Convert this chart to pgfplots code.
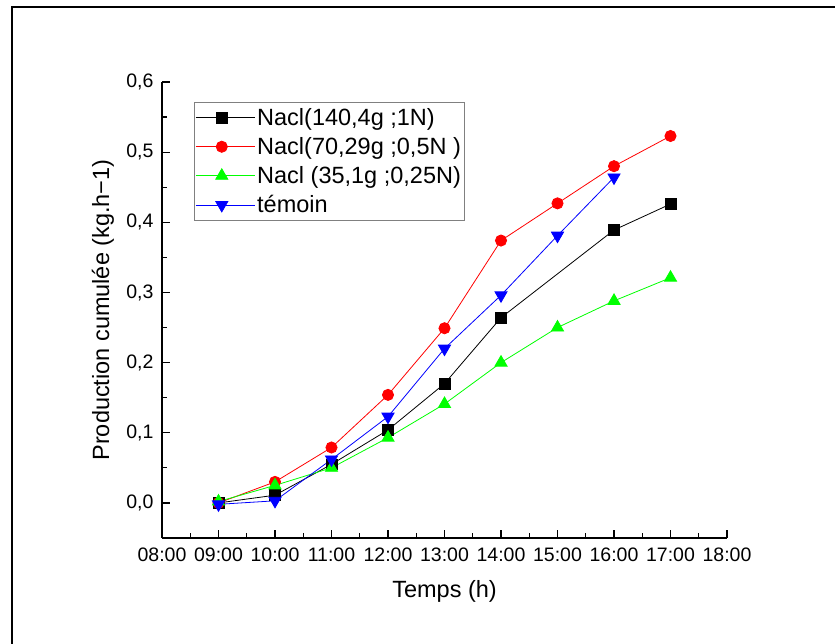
\documentclass[border=0pt]{standalone}
\usepackage{fontspec}
\setmainfont{Liberation Sans}
\usepackage{pgfplots}
\pgfplotsset{compat=1.18}
\begin{document}
\begin{tikzpicture}[x=1pt,y=1pt]
\useasboundingbox (0,0) rectangle (835,644);
\draw[line width=2pt] (12,-20) -- (12,636.5) -- (860,636.5);
\begin{axis}[
  at={(162pt,106pt)}, anchor=south west,
  scale only axis, width=565pt, height=456pt,
  xmin=8, xmax=18, ymin=-0.05, ymax=0.6,
  axis lines*=left, axis line style={-, line width=1.5pt},
  tick align=inside,
  major tick length=8pt, minor tick length=4.5pt,
  every tick/.style={black, line width=1.2pt},
  xtick={8,9,...,18},
  xticklabels={08:00,09:00,10:00,11:00,12:00,13:00,14:00,15:00,16:00,17:00,18:00},
  ytick={0,0.1,0.2,0.3,0.4,0.5,0.6},
  minor x tick num=1, minor y tick num=1,
  /pgf/number format/assume math mode=true,
  /pgf/number format/use comma,
  /pgf/number format/fixed,
  /pgf/number format/fixed zerofill,
  /pgf/number format/precision=1,
  tick label style={font=\fontsize{19.5}{23}\selectfont},
  xticklabel style={yshift=-6pt},
  yticklabel style={xshift=-5pt},
  xlabel={Temps (h)},
  ylabel={Production cumulée (kg.h−1)},
  label style={font=\fontsize{23.5}{28}\selectfont},
  xlabel style={at={(axis description cs:0.5,-0.118)}, anchor=center},
  ylabel style={at={(axis description cs:-0.1044,0.5)}, anchor=center},
  legend cell align=left,
  legend style={at={(axis description cs:0.0566,0.956)}, anchor=north west,
    draw=gray, line width=0.8pt, font=\fontsize{23.5}{28}\selectfont,
    inner xsep=1pt, inner ysep=4pt, row sep=6.5pt},
  legend image code/.code={\draw[mark repeat=2,mark phase=2,#1] plot coordinates {(0pt,0pt) (26pt,0pt) (52pt,0pt)};\path (0pt,0pt) -- (59pt,0pt);},
]
\addplot[black, line width=0.8pt, mark=square*, mark size=5.4pt] coordinates {
(9,0) (10,0.011) (11,0.055) (12,0.104) (13,0.170) (14,0.264) (16,0.389) (17,0.426)};
\addlegendentry{Nacl(140,4g ;1N)}
\addplot[red, line width=0.8pt, mark=*, mark size=5.6pt] coordinates {
(9,0) (10,0.030) (11,0.079) (12,0.154) (13,0.249) (14,0.374) (15,0.427) (16,0.480) (17,0.523)};
\addlegendentry{Nacl(70,29g ;0,5N )}
\addplot[green, line width=0.8pt, mark=triangle*, mark size=7pt] coordinates {
(9,0.002) (10,0.025) (11,0.050) (12,0.093) (13,0.141) (14,0.200) (15,0.250) (16,0.288) (17,0.321)};
\addlegendentry{Nacl (35,1g ;0,25N)}
\addplot[blue, line width=0.8pt, mark=triangle*, mark size=7pt, mark options={rotate=180}] coordinates {
(9,-0.002) (10,0.003) (11,0.062) (12,0.123) (13,0.220) (14,0.296) (15,0.381) (16,0.464)};
\addlegendentry{témoin}
\end{axis}
\end{tikzpicture}
\end{document}
